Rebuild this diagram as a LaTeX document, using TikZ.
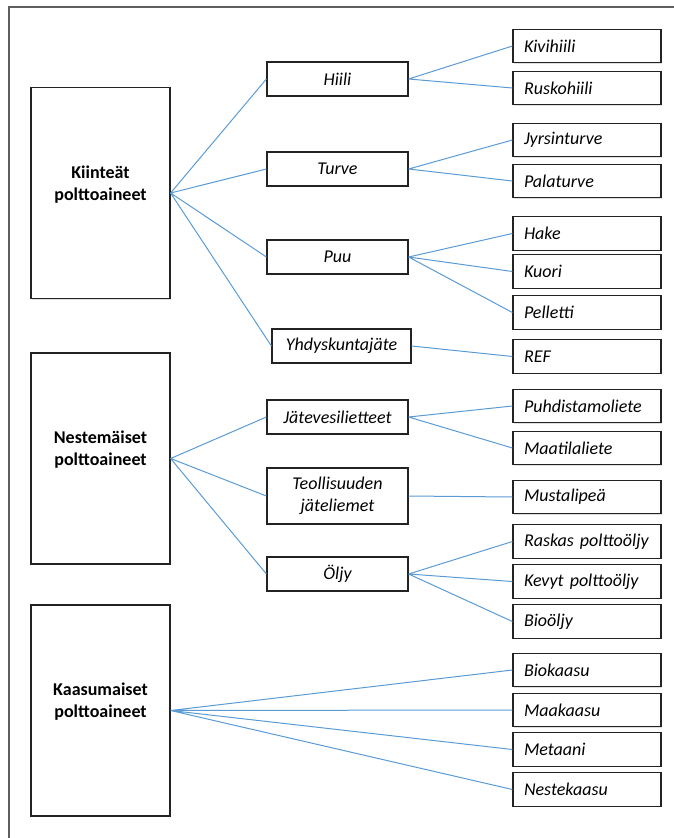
\documentclass[tikz,border=0pt]{standalone}
\usepackage{fontspec}
\setmainfont{Carlito}
\usepackage{tikz}
\usetikzlibrary{shadows}
\definecolor{fuelblue}{RGB}{91,155,213}
\definecolor{framegray}{RGB}{95,95,95}
\definecolor{boxedge}{RGB}{35,35,35}

\begin{document}
\begin{tikzpicture}[
        x=1pt, y=-1pt,
        every node/.style={font=\fontsize{18}{22}\selectfont, text=black},
        box/.style={draw=boxedge, line width=1.2pt, fill=white,
          drop shadow={shadow xshift=0.8pt, shadow yshift=-1pt, opacity=0.25}},
        maincat/.style={box, text width=117pt, inner xsep=11pt, align=center,
          minimum height=211pt, text depth=42pt, font=\fontsize{18}{22}\selectfont\bfseries},
        subcat/.style={box, text width=119pt, inner xsep=11pt, align=center,
          minimum height=34pt, font=\fontsize{18}{22}\selectfont\itshape},
        leafcat/.style={box, text width=126pt, inner xsep=11pt, align=left,
          minimum height=33.5pt, font=\fontsize{18}{22}\selectfont\itshape},
        link/.style={draw=fuelblue, line width=1pt}
      ]
      \useasboundingbox (0,0) rectangle (674,838);
      \draw[framegray, line width=1.4pt] (674,7) -- (9,7) -- (9,838);

      \node[maincat] (kiinteat) at (100.5,193) {Kiinteät\\polttoaineet};
      \node[maincat] (nestemaiset) at (100.5,458.5) {Nestemäiset\\polttoaineet};
      \node[maincat] (kaasumaiset) at (100.5,710.5) {Kaasumaiset\\polttoaineet};

      \node[subcat] (hiili) at (337.5,79) {Hiili};
      \node[subcat] (turve) at (337.5,169) {Turve};
      \node[subcat] (puu) at (337.5,257) {Puu};
      \node[subcat, text width=117pt] (yhdysk) at (341.5,346) {Yhdyskuntajäte};
      \node[subcat] (jateves) at (337.5,417) {Jätevesilietteet};
      \node[subcat, minimum height=56pt] (teoll) at (337.5,496) {Teollisuuden\\jäteliemet};
      \node[subcat] (oljy) at (337.5,574) {Öljy};

      \node[leafcat] (kivihiili) at (587,46) {Kivihiili};
      \node[leafcat] (ruskohiili) at (587,88) {Ruskohiili};
      \node[leafcat] (jyrsin) at (587,140) {Jyrsinturve};
      \node[leafcat] (pala) at (587,181) {Palaturve};
      \node[leafcat] (hake) at (587,233.5) {Hake};
      \node[leafcat] (kuori) at (587,271.5) {Kuori};
      \node[leafcat] (pelletti) at (587,312.5) {Pelletti};
      \node[leafcat] (ref) at (587,356.5) {REF};
      \node[leafcat] (puhdist) at (587,406) {Puhdistamoliete};
      \node[leafcat] (maatila) at (587,448) {Maatilaliete};
      \node[leafcat] (musta) at (587,497) {Mustalipeä};
      \node[leafcat] (raskas) at (587,541.5) {Raskas polttoöljy};
      \node[leafcat] (kevyt) at (587,581.5) {Kevyt polttoöljy};
      \node[leafcat] (bio) at (587,621.5) {Bioöljy};
      \node[leafcat] (biokaasu) at (587,670) {Biokaasu};
      \node[leafcat] (maakaasu) at (587,710) {Maakaasu};
      \node[leafcat] (metaani) at (587,749.5) {Metaani};
      \node[leafcat] (neste) at (587,789.5) {Nestekaasu};

      \draw[link] (kiinteat.east) -- (hiili.west) (kiinteat.east) -- (turve.west)
        (kiinteat.east) -- (puu.west) (kiinteat.east) -- (yhdysk.west);
      \draw[link] (nestemaiset.east) -- (jateves.west) (nestemaiset.east) -- (teoll.west)
        (nestemaiset.east) -- (oljy.west);
      \draw[link] (kaasumaiset.east) -- (biokaasu.west) (kaasumaiset.east) -- (maakaasu.west)
        (kaasumaiset.east) -- (metaani.west) (kaasumaiset.east) -- (neste.west);
      \draw[link] (hiili.east) -- (kivihiili.west) (hiili.east) -- (ruskohiili.west);
      \draw[link] (turve.east) -- (jyrsin.west) (turve.east) -- (pala.west);
      \draw[link] (puu.east) -- (hake.west) (puu.east) -- (kuori.west) (puu.east) -- (pelletti.west);
      \draw[link] (yhdysk.east) -- (ref.west);
      \draw[link] (jateves.east) -- (puhdist.west) (jateves.east) -- (maatila.west);
      \draw[link] (teoll.east) -- (musta.west);
      \draw[link] (oljy.east) -- (raskas.west) (oljy.east) -- (kevyt.west) (oljy.east) -- (bio.west);
    \end{tikzpicture}
\end{document}
